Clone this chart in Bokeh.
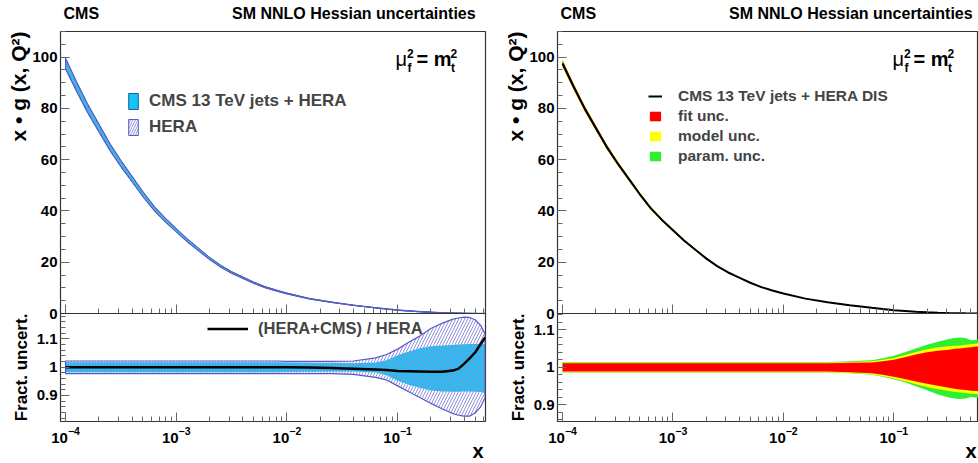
import math
from bokeh.plotting import figure
from bokeh.models import (Range1d, FixedTicker, Label, Legend, LegendItem,
                          CustomJSTickFormatter, Title)
from bokeh.layouts import row, column
from bokeh.embed import file_html
from bokeh.resources import INLINE

FONT = "Liberation Sans"

# ---------------- data ----------------
log_x = [-4.0, -3.9, -3.8, -3.7, -3.6, -3.5, -3.4, -3.3, -3.2, -3.1,
         -3.0, -2.9, -2.8, -2.7, -2.6, -2.5, -2.4, -2.3, -2.2, -2.1,
         -2.0, -1.8, -1.6, -1.4, -1.2, -1.1, -1.0, -0.9, -0.8, -0.7,
         -0.6, -0.5, -0.45, -0.4, -0.35, -0.3, -0.25, -0.21]

xg_central = [97.5, 88.5, 80.0, 72.5, 65.0, 58.5, 52.5, 46.5, 41.0, 36.5,
              32.5, 28.5, 25.0, 21.5, 18.5, 16.0, 14.0, 12.0, 10.3, 9.0,
              7.8, 5.8, 4.4, 3.2, 2.2, 1.75, 1.3, 1.0, 0.7, 0.48,
              0.3, 0.17, 0.12, 0.08, 0.05, 0.03, 0.018, 0.01]

# left ratio panel
hera_up = [1.022, 1.022, 1.022, 1.022, 1.022, 1.022, 1.022, 1.022, 1.022, 1.022,
           1.022, 1.022, 1.022, 1.022, 1.022, 1.022, 1.022, 1.022, 1.022, 1.022,
           1.021, 1.021, 1.021, 1.022, 1.033, 1.045, 1.064, 1.088, 1.110, 1.137,
           1.155, 1.170, 1.174, 1.177, 1.176, 1.168, 1.148, 1.118]
hera_dn = [0.977, 0.977, 0.977, 0.977, 0.977, 0.977, 0.977, 0.977, 0.977, 0.977,
           0.977, 0.977, 0.977, 0.977, 0.977, 0.977, 0.977, 0.977, 0.977, 0.977,
           0.977, 0.977, 0.977, 0.975, 0.964, 0.955, 0.934, 0.913, 0.893, 0.872,
           0.853, 0.836, 0.830, 0.827, 0.827, 0.838, 0.860, 0.893]
cms_up = [1.018, 1.018, 1.018, 1.018, 1.018, 1.018, 1.018, 1.018, 1.018, 1.018,
          1.018, 1.018, 1.018, 1.018, 1.018, 1.018, 1.018, 1.018, 1.018, 1.018,
          1.017, 1.016, 1.015, 1.014, 1.017, 1.025, 1.042, 1.056, 1.067, 1.074,
          1.077, 1.079, 1.080, 1.081, 1.082, 1.082, 1.083, 1.083]
cms_dn = [0.982, 0.982, 0.982, 0.982, 0.982, 0.982, 0.982, 0.982, 0.982, 0.982,
          0.982, 0.982, 0.982, 0.982, 0.982, 0.982, 0.982, 0.982, 0.982, 0.982,
          0.983, 0.984, 0.985, 0.985, 0.981, 0.972, 0.952, 0.938, 0.927, 0.918,
          0.914, 0.913, 0.913, 0.914, 0.914, 0.913, 0.912, 0.908]
ratio_cms_hera = [1.0, 1.0, 1.0, 1.0, 1.0, 1.0, 1.0, 1.0, 1.0, 1.0,
                  1.0, 1.0, 1.0, 1.0, 1.0, 1.0, 1.0, 1.0, 1.0, 1.0,
                  1.0, 0.999, 0.997, 0.995, 0.992, 0.990, 0.987, 0.986, 0.985, 0.984,
                  0.984, 0.988, 0.995, 1.012, 1.031, 1.052, 1.082, 1.105]

# right ratio panel (cumulative band edges)
fit_up = [1.011, 1.011, 1.011, 1.011, 1.011, 1.011, 1.011, 1.011, 1.011, 1.011,
          1.011, 1.011, 1.011, 1.011, 1.011, 1.011, 1.011, 1.011, 1.011, 1.011,
          1.011, 1.011, 1.011, 1.012, 1.013, 1.016, 1.020, 1.027, 1.034, 1.040,
          1.044, 1.047, 1.049, 1.050, 1.052, 1.053, 1.055, 1.057]
fit_dn = [0.989, 0.989, 0.989, 0.989, 0.989, 0.989, 0.989, 0.989, 0.989, 0.989,
          0.989, 0.989, 0.989, 0.989, 0.989, 0.989, 0.989, 0.989, 0.989, 0.989,
          0.989, 0.989, 0.989, 0.987, 0.984, 0.980, 0.975, 0.969, 0.962, 0.956,
          0.951, 0.946, 0.943, 0.941, 0.940, 0.938, 0.937, 0.936]
mod_up = [1.013, 1.013, 1.013, 1.013, 1.013, 1.013, 1.013, 1.013, 1.013, 1.013,
          1.013, 1.013, 1.013, 1.013, 1.013, 1.013, 1.013, 1.013, 1.013, 1.013,
          1.013, 1.013, 1.013, 1.014, 1.016, 1.020, 1.025, 1.033, 1.041, 1.048,
          1.053, 1.056, 1.057, 1.058, 1.060, 1.061, 1.063, 1.064]
mod_dn = [0.987, 0.987, 0.987, 0.987, 0.987, 0.987, 0.987, 0.987, 0.987, 0.987,
          0.987, 0.987, 0.987, 0.987, 0.987, 0.987, 0.987, 0.987, 0.987, 0.987,
          0.987, 0.987, 0.987, 0.985, 0.981, 0.976, 0.970, 0.963, 0.955, 0.948,
          0.942, 0.937, 0.935, 0.933, 0.932, 0.930, 0.929, 0.928]
par_up = [1.014, 1.014, 1.014, 1.014, 1.014, 1.014, 1.014, 1.014, 1.014, 1.014,
          1.014, 1.014, 1.014, 1.014, 1.014, 1.014, 1.014, 1.014, 1.014, 1.014,
          1.014, 1.014, 1.014, 1.016, 1.019, 1.024, 1.031, 1.040, 1.050, 1.060,
          1.068, 1.075, 1.078, 1.079, 1.078, 1.072, 1.073, 1.076]
par_dn = [0.986, 0.986, 0.986, 0.986, 0.986, 0.986, 0.986, 0.986, 0.986, 0.986,
          0.986, 0.986, 0.986, 0.986, 0.986, 0.986, 0.986, 0.986, 0.986, 0.986,
          0.986, 0.986, 0.986, 0.984, 0.980, 0.975, 0.968, 0.960, 0.950, 0.939,
          0.928, 0.920, 0.917, 0.916, 0.917, 0.921, 0.919, 0.918]

x_major_ticks = [1e-4, 1e-3, 1e-2, 1e-1]
y_top_ticks = [0, 20, 40, 60, 80, 100]
y_ratio_ticks = [0.9, 1.0, 1.1]

# ---------------- geometry ----------------
X_START = 9.0e-5
X_END_L = 0.622
X_END_R = 0.585
Y_TOP = (0, 110)
Y_RAT_L = (0.808, 1.19)
Y_RAT_R = (0.856, 1.143)

xs = [10 ** v for v in log_x]
hera_central = [g / r for g, r in zip(xg_central, ratio_cms_hera)]
x_minor_ticks = [m * t / 10 for t in x_major_ticks + [1.0] for m in range(2, 10)]


def band(up, dn):
    return xs + xs[::-1], list(up) + list(dn)[::-1]


def scaled(base, rel):
    return [b * r for b, r in zip(base, rel)]


def make_fig(width, height, x_end, yr, bl, br, bt, bb):
    p = figure(width=width, height=height, x_axis_type="log",
               x_range=Range1d(X_START, x_end), y_range=Range1d(*yr),
               output_backend="svg", toolbar_location=None,
               min_border_left=bl, min_border_right=br,
               min_border_top=bt, min_border_bottom=bb)
    p.grid.visible = False
    p.outline_line_color = "#333333"
    p.outline_line_width = 1.2
    for ax in p.axis:
        ax.axis_line_color = "#333333"
        ax.major_tick_in = 9
        ax.major_tick_out = 0
        ax.minor_tick_in = 5
        ax.minor_tick_out = 0
        ax.major_tick_line_color = "#666666"
        ax.minor_tick_line_color = "#666666"
        ax.major_label_text_font = FONT
        ax.major_label_text_font_style = "bold"
        ax.major_label_text_font_size = "15px"
        ax.major_label_text_color = "black"
    p.yaxis.major_label_standoff = 3
    p.xaxis.major_label_standoff = 5
    return p


def lab(p, x, y, text, size, bold=True, align="left", baseline="middle", dx=0, dy=0):
    p.add_layout(Label(x=x, y=y, x_offset=dx, y_offset=dy, text=text,
                       text_font=FONT, text_font_size=size,
                       text_font_style="bold" if bold else "normal",
                       text_align=align, text_baseline=baseline, text_color="black"))


def top_decor(p):
    p.add_layout(Title(text="x \u2022 g (x, Q\u00b2)", align="right", standoff=0,
                       text_font=FONT, text_font_size="21px", text_font_style="bold",
                       text_color="black"), "left")
    # mu_f^2 = m_t^2 (inside the frame, offsets from the top-left corner)
    lab(p, X_START, Y_TOP[1], "\u03bc", "20px", bold=False, baseline="alphabetic", dx=335, dy=-27)
    lab(p, X_START, Y_TOP[1], "2", "12px", baseline="alphabetic", dx=346.5, dy=-21.5)
    lab(p, X_START, Y_TOP[1], "f", "12px", baseline="alphabetic", dx=347, dy=-36)
    lab(p, X_START, Y_TOP[1], "= m", "20px", baseline="alphabetic", dx=356, dy=-27)
    lab(p, X_START, Y_TOP[1], "2", "12px", baseline="alphabetic", dx=390, dy=-21.5)
    lab(p, X_START, Y_TOP[1], "t", "12px", baseline="alphabetic", dx=390.5, dy=-36)


def ratio_axes(p):
    p.yaxis.ticker = FixedTicker(ticks=y_ratio_ticks,
                                 minor_ticks=[round(0.8 + 0.02 * i, 2) for i in range(21)])
    p.yaxis.formatter = CustomJSTickFormatter(
        code="return Math.abs(tick - 1) < 1e-9 ? '1' : tick.toFixed(1);")
    p.xaxis.ticker = FixedTicker(ticks=x_major_ticks, minor_ticks=x_minor_ticks)
    p.yaxis.axis_label = "Fract. uncert."
    p.yaxis.axis_label_standoff = 3
    p.yaxis.axis_label_text_font = FONT
    p.yaxis.axis_label_text_font_size = "17px"
    p.yaxis.axis_label_text_font_style = "bold"
    p.yaxis.axis_label_text_color = "black"
    p.border_fill_alpha = 0
    p.margin = (-8, 0, 0, 0)


def top_axes(p):
    p.yaxis.ticker = FixedTicker(ticks=y_top_ticks, minor_ticks=list(range(0, 111, 5)))
    p.xaxis.ticker = FixedTicker(ticks=x_major_ticks, minor_ticks=x_minor_ticks)
    p.xaxis.major_label_text_font_size = "1px"
    p.xaxis.major_label_text_alpha = 0
    p.xaxis.major_label_standoff = 0


def text_strip(height, margin_top):
    s = figure(width=978, height=height, x_range=Range1d(0, 978), y_range=Range1d(0, height),
               x_axis_type=None, y_axis_type=None, output_backend="svg",
               toolbar_location=None, min_border=0, outline_line_color=None)
    s.min_border_left = s.min_border_right = s.min_border_top = s.min_border_bottom = 0
    s.grid.visible = False
    s.background_fill_alpha = 0
    s.border_fill_alpha = 0
    s.margin = (margin_top, 0, 0, 0)
    return s


CYAN = "#14c4f2"
HERA_LINE = "#5a5ac8"
HERA_HATCH = "#9090dc"
RED, YELLOW, GREEN = "#ff0000", "#ffff00", "#2ef02e"

# ---------------- header ----------------
header = text_strip(31, 0)
for x0 in (63, 560):
    lab(header, x0, 18, "CMS", "16px")
    lab(header, x0 + 168.5, 18, "SM NNLO Hessian uncertainties", "16px")

# ---------------- left top ----------------
p_tl = make_fig(497, 290, X_END_L, Y_TOP, 60, 12, 0, 8)
top_axes(p_tl)
bx, by = band(scaled(xg_central, cms_up), scaled(xg_central, cms_dn))
r_cms = p_tl.patch(bx, by, fill_color=CYAN, line_color="#1a5f9a", line_width=1)
hx, hy = band(scaled(hera_central, hera_up), scaled(hera_central, hera_dn))
r_hera = p_tl.patch(hx, hy, fill_alpha=0, line_color=HERA_LINE, line_width=1,
                    hatch_pattern="/", hatch_color=HERA_HATCH, hatch_scale=5, hatch_weight=1)
top_decor(p_tl)
leg_tl = Legend(items=[LegendItem(label="CMS 13 TeV jets + HERA", renderers=[r_cms]),
                       LegendItem(label="HERA", renderers=[r_hera])],
                location=(67, 176), glyph_width=12, glyph_height=20, label_height=20,
                spacing=6, padding=0, margin=0, label_standoff=10,
                border_line_color=None, background_fill_alpha=0,
                label_text_font=FONT, label_text_font_style="bold", label_text_font_size="17px")
p_tl.add_layout(leg_tl)

# ---------------- left ratio ----------------
p_bl = make_fig(497, 150, X_END_L, Y_RAT_L, 60, 12, 0, 42)
ratio_axes(p_bl)
cx, cy = band(cms_up, cms_dn)
p_bl.patch(cx, cy, fill_color=CYAN, line_color=None)
hx2, hy2 = band(hera_up, hera_dn)
p_bl.patch(hx2, hy2, fill_alpha=0, line_color=HERA_LINE, line_width=1.2,
           hatch_pattern="/", hatch_color=HERA_HATCH, hatch_scale=6, hatch_weight=1)
r_ratio = p_bl.line(xs, ratio_cms_hera, line_color="black", line_width=2.5)
leg_bl = Legend(items=[LegendItem(label="(HERA+CMS) / HERA", renderers=[r_ratio])],
                location=(147, 83), glyph_width=41, glyph_height=19, label_height=19,
                spacing=0, padding=0, margin=0, label_standoff=10,
                border_line_color=None, background_fill_alpha=0,
                label_text_font=FONT, label_text_font_style="bold", label_text_font_size="16.5px")
p_bl.add_layout(leg_bl)

# ---------------- right top ----------------
p_tr = make_fig(481, 290, X_END_R, Y_TOP, 60, 0, 0, 8)
top_axes(p_tr)
gx, gy = band(scaled(xg_central, par_up), scaled(xg_central, par_dn))
r_par = p_tr.patch(gx, gy, fill_color=GREEN, line_color=None)
yx, yy = band(scaled(xg_central, mod_up), scaled(xg_central, mod_dn))
r_mod = p_tr.patch(yx, yy, fill_color=YELLOW, line_color=None)
fx, fy = band(scaled(xg_central, fit_up), scaled(xg_central, fit_dn))
r_fit = p_tr.patch(fx, fy, fill_color=RED, line_color=None)
r_line = p_tr.line(xs, xg_central, line_color="black", line_width=2)
top_decor(p_tr)
leg_tr = Legend(items=[LegendItem(label="CMS 13 TeV jets + HERA DIS", renderers=[r_line]),
                       LegendItem(label="fit unc.", renderers=[r_fit]),
                       LegendItem(label="model unc.", renderers=[r_mod]),
                       LegendItem(label="param. unc.", renderers=[r_par])],
                location=(91, 148), glyph_width=14, glyph_height=12, label_height=17,
                spacing=2, padding=0, margin=0, label_standoff=16,
                border_line_color=None, background_fill_alpha=0,
                label_text_font=FONT, label_text_font_style="bold", label_text_font_size="15.5px")
p_tr.add_layout(leg_tr)

# ---------------- right ratio ----------------
p_br = make_fig(481, 150, X_END_R, Y_RAT_R, 60, 0, 0, 42)
ratio_axes(p_br)
gx2, gy2 = band(par_up, par_dn)
p_br.patch(gx2, gy2, fill_color=GREEN, line_color=None)
yx2, yy2 = band(mod_up, mod_dn)
p_br.patch(yx2, yy2, fill_color=YELLOW, line_color=None)
fx2, fy2 = band(fit_up, fit_dn)
p_br.patch(fx2, fy2, fill_color=RED, line_color=None)

# ---------------- footer (axis titles "x") ----------------
footer = text_strip(26, -26)
lab(footer, 483, 13, "x", "20px", align="right")
lab(footer, 976, 13, "x", "20px", align="right")

layout = column(header, row(column(p_tl, p_bl), column(p_tr, p_br)), footer)
open("out.html", "w").write(file_html(layout, INLINE, title="CMS gluon"))
